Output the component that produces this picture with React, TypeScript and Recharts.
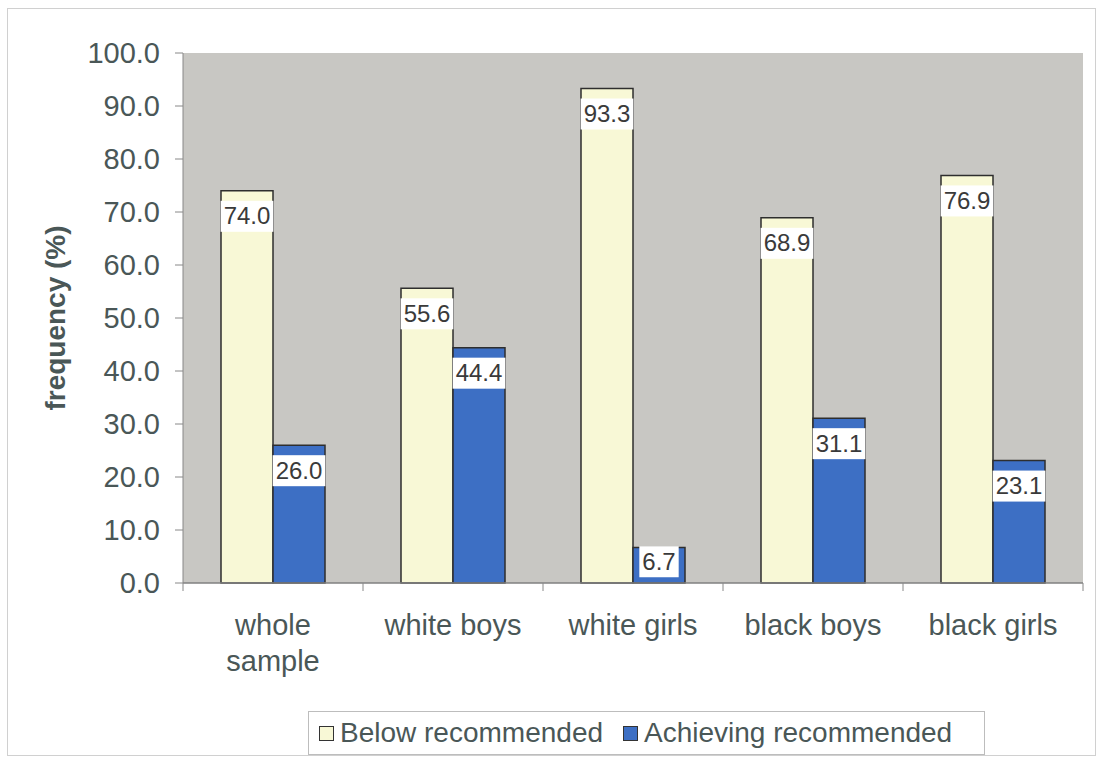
import React from 'react';
import { BarChart, Bar, XAxis, YAxis, CartesianGrid, Legend, LabelList } from 'recharts';

const categories = ['whole sample', 'white boys', 'white girls', 'black boys', 'black girls'];
const belowValues = [74.0, 55.6, 93.3, 68.9, 76.9];
const achievingValues = [26.0, 44.4, 6.7, 31.1, 23.1];
const seriesNames = ['Below recommended', 'Achieving recommended'];
const yTicks = [0, 10, 20, 30, 40, 50, 60, 70, 80, 90, 100];

const data = categories.map((name, i) => ({ name, below: belowValues[i], achieving: achievingValues[i] }));

const W = 1099;
const H = 759;
const MARGIN = { top: 53, right: 16, left: 0, bottom: 4 };
const YAXIS_W = 183;
const PLOT_W = W - MARGIN.left - MARGIN.right - YAXIS_W;
const BAND = PLOT_W / categories.length;
const FONT = '"Liberation Sans", Arial, Helvetica, sans-serif';
const TEXT_COLOR = '#4a5757';
const YELLOW = '#f8f8d6';
const BLUE = '#3d6fc4';
const BG = '#c8c7c3';

// rough Arial width estimate (em units) used only to decide on line wrapping
const charW = (ch: string) => {
  if (ch === ' ') return 0.278;
  if ('iljt'.includes(ch)) return 0.25;
  if ('fr'.includes(ch)) return 0.33;
  if ('mw'.includes(ch)) return 0.8;
  return 0.556;
};
const wrapLines = (s: string, maxPx: number, fs: number) => {
  const words = s.split(' ');
  const lines: string[] = [];
  let cur = '';
  for (const w of words) {
    const test = cur ? cur + ' ' + w : w;
    let width = 0;
    for (const ch of test) width += charW(ch) * fs;
    if (width > maxPx && cur) {
      lines.push(cur);
      cur = w;
    } else cur = test;
  }
  if (cur) lines.push(cur);
  return lines;
};

const ValueLabel = (props: any) => {
  const { x, y, width, height, value } = props;
  const s = Number(value).toFixed(1);
  const fs = 24;
  let tw = 0;
  for (const ch of s) tw += ch === '.' ? 0.278 : 0.556;
  const bw = tw * fs + 6;
  const off = Math.min(25, height / 2 - 4);
  const cy = y + off;
  const cx = x + width / 2;
  return (
    <g>
      <rect x={cx - bw / 2} y={cy - 15} width={bw} height={31} fill="#ffffff" />
      <text x={cx} y={cy} dy="0.36em" textAnchor="middle" fontSize={fs} fontFamily={FONT} fill="#3a3a3a">
        {s}
      </text>
    </g>
  );
};

const XTick = (props: any) => {
  const { x, y, payload, index } = props;
  const left = x - BAND / 2;
  const right = x + BAND / 2;
  const lines = wrapLines(String(payload.value), 160, 29);
  return (
    <g>
      <line x1={left} y1={y} x2={left} y2={y + 8} stroke="#888" strokeWidth={1} />
      {index === categories.length - 1 && (
        <line x1={right} y1={y} x2={right} y2={y + 8} stroke="#888" strokeWidth={1} />
      )}
      <text textAnchor="middle" fontSize={29} fontFamily={FONT} fill={TEXT_COLOR}>
        {lines.map((ln, i) => (
          <tspan key={i} x={x} y={y + 52 + i * 36}>
            {ln}
          </tspan>
        ))}
      </text>
    </g>
  );
};

const YLabel = (props: any) => {
  const { viewBox } = props;
  const x = viewBox.x + 55;
  const y = viewBox.y + viewBox.height / 2;
  return (
    <text
      x={x}
      y={y}
      transform={`rotate(-90, ${x}, ${y})`}
      textAnchor="middle"
      dominantBaseline="central"
      fontSize={28}
      fontWeight="bold"
      fontFamily={FONT}
      fill={TEXT_COLOR}
    >
      frequency (%)
    </text>
  );
};

const LegendContent = (props: any) => {
  const { payload } = props;
  const items = [...(payload || [])].sort(
    (a: any, b: any) => seriesNames.indexOf(a.value) - seriesNames.indexOf(b.value)
  );
  return (
    <div
      style={{
        height: 44,
        boxSizing: 'border-box',
        border: '1px solid #bdbdbd',
        background: '#fff',
        display: 'flex',
        alignItems: 'center',
        paddingLeft: 10,
        fontFamily: FONT,
        fontSize: 28,
        color: TEXT_COLOR,
        whiteSpace: 'nowrap',
      }}
    >
      {items.map((p: any, i: number) => (
        <div key={i} style={{ display: 'flex', alignItems: 'center', marginRight: i === 0 ? 20 : 0 }}>
          <div
            style={{
              width: 15,
              height: 15,
              boxSizing: 'border-box',
              background: p.color,
              border: '1.5px solid #333',
              marginRight: 6,
            }}
          />
          <span>{p.value}</span>
        </div>
      ))}
    </div>
  );
};

export default function App() {
  return (
    <div style={{ position: 'absolute', left: 0, top: 0, width: W, height: H, background: '#fff' }}>
      <div
        style={{
          position: 'absolute',
          left: 7,
          top: 8,
          width: 1089,
          height: 748,
          border: '1px solid #d0d0d0',
          boxSizing: 'border-box',
        }}
      />
      <BarChart
        width={W}
        height={H}
        data={data}
        margin={MARGIN}
        barSize={52}
        barGap={0}
        style={{ position: 'absolute', left: 0, top: 0 }}
      >
        <CartesianGrid xAxisId="b" yAxisId="l" fill={BG} horizontal={false} vertical={false} />
        <XAxis
          xAxisId="t"
          orientation="top"
          dataKey="name"
          height={0}
          tick={false}
          tickLine={false}
          axisLine={{ stroke: '#7a7a7a', strokeWidth: 1.5 }}
        />
        <YAxis
          yAxisId="r"
          orientation="right"
          width={0}
          domain={[0, 100]}
          tick={false}
          tickLine={false}
          axisLine={{ stroke: '#9a9a9a', strokeWidth: 1.5 }}
        />
        <XAxis
          xAxisId="b"
          dataKey="name"
          height={128}
          tickSize={0}
          tickMargin={0}
          tickLine={false}
          axisLine={{ stroke: '#808080', strokeWidth: 1.5 }}
          tick={<XTick />}
          interval={0}
        />
        <YAxis
          yAxisId="l"
          width={YAXIS_W}
          domain={[0, 100]}
          ticks={yTicks}
          tickFormatter={(v: number) => v.toFixed(1)}
          tickSize={8}
          tickMargin={15}
          tickLine={{ stroke: '#888' }}
          axisLine={{ stroke: '#888' }}
          tick={{ fontSize: 29, fontFamily: FONT, fill: TEXT_COLOR }}
          label={<YLabel />}
          interval={0}
        />
        <Legend
          verticalAlign="bottom"
          content={<LegendContent />}
          wrapperStyle={{ left: 308, width: 677, bottom: 4 }}
        />
        <Bar
          xAxisId="b"
          yAxisId="l"
          dataKey="below"
          name={seriesNames[0]}
          fill={YELLOW}
          stroke="#2e2e2e"
          strokeWidth={1.5}
          isAnimationActive={false}
        >
          <LabelList dataKey="below" content={<ValueLabel />} />
        </Bar>
        <Bar
          xAxisId="b"
          yAxisId="l"
          dataKey="achieving"
          name={seriesNames[1]}
          fill={BLUE}
          stroke="#2e2e2e"
          strokeWidth={1.5}
          isAnimationActive={false}
        >
          <LabelList dataKey="achieving" content={<ValueLabel />} />
        </Bar>
      </BarChart>
    </div>
  );
}
